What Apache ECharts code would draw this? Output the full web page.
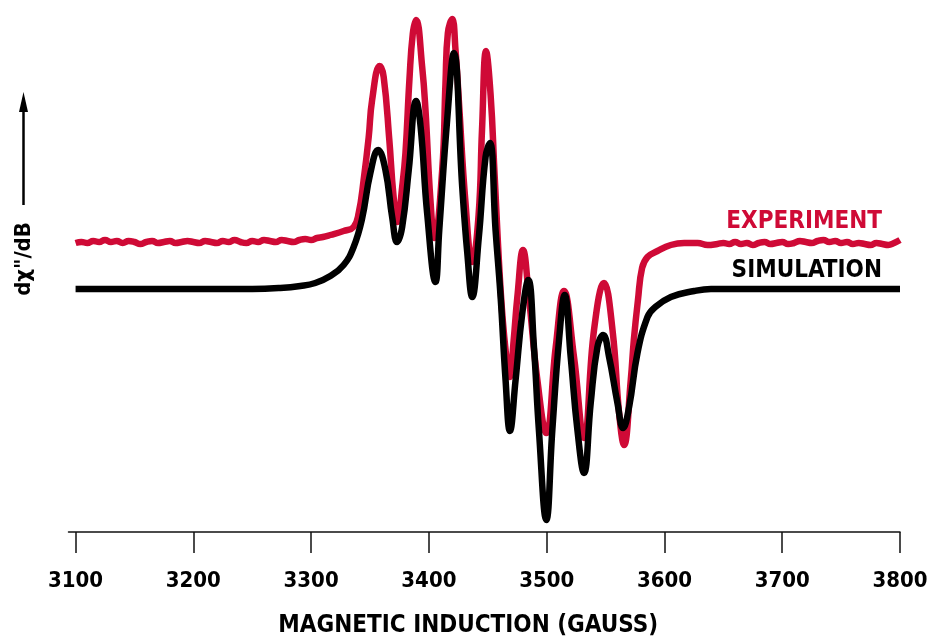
<!DOCTYPE html>
<html>
<head>
<meta charset="utf-8">
<script src="https://cdn.jsdelivr.net/npm/echarts@6/dist/echarts.min.js"></script>
<style>
  html, body { margin: 0; padding: 0; background: #ffffff; }
  #chart { width: 933px; height: 636px; }
</style>
</head>
<body>
<div id="chart"></div>
<script>
// Magnetic field tick values (gauss)
const fieldTicks = [3100, 3200, 3300, 3400, 3500, 3600, 3700, 3800];

// Measured EPR derivative spectrum (arbitrary units)
const fieldExp = [
  3100, 3105, 3110, 3115, 3120, 3125, 3130, 3135, 3140, 3145,
  3150, 3155, 3160, 3165, 3170, 3175, 3180, 3185, 3190, 3195,
  3200, 3205, 3210, 3215, 3220, 3225, 3230, 3235, 3240, 3245,
  3250, 3255, 3260, 3265, 3270, 3275, 3280, 3285, 3290, 3295,
  3300, 3305, 3310, 3316.3, 3327.6, 3336.1, 3340.4, 3344.6, 3348.9, 3351.8,
  3358.2, 3361.6, 3366.4, 3369.9, 3373.3, 3377.3, 3380.1, 3383.5, 3386.3, 3389.2,
  3394.3, 3397.1, 3401.3, 3404.7, 3411.3, 3414.1, 3416.1, 3419.8, 3422.6, 3425.4,
  3431.1, 3436.8, 3442.2, 3445.1, 3448.5, 3452.4, 3455.8, 3460.9, 3465.1, 3468.8,
  3472.0, 3475.1, 3479.9, 3484.9, 3492.1, 3499.7, 3507.7, 3514.7, 3523.2, 3531.7,
  3540.2, 3548.7, 3555.9, 3561.5, 3565.7, 3571.4, 3574.0, 3577.5, 3581.0, 3585.6,
  3594.1, 3605.4, 3616.8, 3628.2, 3636.7, 3645, 3650, 3655, 3660, 3665,
  3670, 3675, 3680, 3685, 3690, 3695, 3700, 3705, 3710, 3715,
  3720, 3725, 3730, 3735, 3740, 3745, 3750, 3755, 3760, 3765,
  3770, 3775, 3780, 3785, 3790, 3795, 3800
];
const signalExp = [
  46, 47, 46, 48, 47, 49, 47, 48, 46, 48,
  47, 45, 47, 48, 46, 47, 48, 46, 47, 48,
  47, 46, 48, 47, 46, 48, 47, 49, 47, 46,
  48, 47, 49, 48, 47, 49, 48, 47, 49, 50,
  49, 51, 52, 54, 58, 62, 76, 109, 152, 189,
  223, 212, 149, 94, 67, 102, 136, 210, 255, 269,
  222, 179, 89, 51, 119, 206, 256, 270, 239, 189,
  86, 27, 74, 159, 238, 194, 114, -1, -61, -88,
  -51, -8, 39, -8, -91, -144, -58, -2, -68, -149,
  -41, 6, -41, -124, -156, -91, -51, -11, 21, 32,
  38, 44, 46, 46, 44, 45, 46, 45, 47, 45,
  46, 44, 46, 47, 45, 46, 47, 45, 46, 48,
  47, 46, 48, 49, 47, 48, 46, 47, 45, 46,
  45, 44, 46, 45, 44, 46, 49
];

// Simulated spectrum (arbitrary units)
const fieldSim = [
  3100, 3150, 3200, 3250, 3273.8, 3290.8, 3303.5, 3316.3, 3327.6, 3336.1,
  3343.2, 3350.3, 3356.9, 3363.1, 3368.8, 3373.0, 3377.3, 3382.9, 3389.2, 3393.0,
  3398.5, 3405.6, 3408.8, 3415.5, 3421.2, 3428.3, 3432.6, 3436.8, 3442.4, 3448.1,
  3451.8, 3456.6, 3460.9, 3465.1, 3468.8, 3473.6, 3479.3, 3484.4, 3489.2, 3493.4,
  3499.7, 3504.8, 3510.5, 3515.3, 3520.4, 3526.1, 3531.7, 3537.4, 3543.1, 3547.9,
  3553.0, 3560.1, 3564.9, 3570.0, 3577.1, 3585.6, 3591.3, 3605.4, 3625.3, 3639.5,
  3665, 3700, 3750, 3800
];
const signalSim = [
  0, 0, 0, 0, 1, 3, 6, 13, 24, 42,
  70, 116, 139, 119, 72, 47, 62, 119, 188, 162,
  76, 7, 59, 169, 236, 102, 36, -8, 52, 132,
  146, 59, -8, -91, -142, -91, -24, 9, -58, -141,
  -231, -141, -51, -6, -68, -141, -184, -114, -58, -46,
  -68, -114, -139, -118, -64, -28, -19, -8, -2, 0,
  0, 0, 0, 0
];

const zip = (xs, ys) => xs.map((x, i) => [x, ys[i]]);

const textFont = '"DejaVu Sans Condensed", "DejaVu Sans", sans-serif';

const chart = echarts.init(document.getElementById('chart'), null, { renderer: 'canvas' });

chart.setOption({
  animation: false,
  backgroundColor: '#ffffff',
  grid: { left: 68.5, right: 33, top: 10, bottom: 104, containLabel: false,
          outerBoundsMode: 'none' },
  xAxis: {
    type: 'value',
    min: 3094,
    max: 3800,
    position: 'bottom',
    axisLine: { show: true, onZero: false, lineStyle: { color: '#111', width: 1.5 } },
    axisTick: { show: true, inside: false, length: 21, customValues: fieldTicks,
                lineStyle: { color: '#111', width: 1.5 } },
    axisLabel: { show: true, margin: 38, customValues: fieldTicks,
                 formatter: (v) => String(v),
                 fontFamily: textFont, fontWeight: 'bold', fontSize: 22, color: '#000' },
    splitLine: { show: false },
    name: 'MAGNETIC INDUCTION (GAUSS)',
    nameLocation: 'middle',
    nameGap: 82,
    nameTextStyle: { fontFamily: textFont, fontWeight: 'bold', fontSize: 24, color: '#000',
                     padding: [0, 32, 0, 0] }
  },
  yAxis: {
    type: 'value',
    min: -243,
    max: 279,
    show: false
  },
  series: [
    {
      name: 'EXPERIMENT',
      type: 'line',
      data: zip(fieldExp, signalExp),
      showSymbol: false,
      symbol: 'none',
      smooth: 0.45,
      lineStyle: { color: '#cf0a36', width: 6.5 },
      z: 2
    },
    {
      name: 'SIMULATION',
      type: 'line',
      data: zip(fieldSim, signalSim),
      showSymbol: false,
      symbol: 'none',
      smooth: 0.45,
      lineStyle: { color: '#000000', width: 6.5 },
      z: 3
    }
  ],
  graphic: [
    {
      type: 'text', right: 51, top: 210,
      style: { text: 'EXPERIMENT', fill: '#cf0a36', font: 'bold 24px ' + textFont }
    },
    {
      type: 'text', right: 51, top: 259,
      style: { text: 'SIMULATION', fill: '#000000', font: 'bold 24px ' + textFont }
    },
    {
      type: 'text', x: 24, y: 259, rotation: Math.PI / 2,
      style: { text: 'dχ"/dB', fill: '#000', font: 'bold 22px ' + textFont,
               align: 'center', verticalAlign: 'middle' }
    },
    {
      type: 'line',
      shape: { x1: 23.5, y1: 205, x2: 23.5, y2: 110 },
      style: { stroke: '#000', lineWidth: 2.5 }
    },
    {
      type: 'polygon',
      shape: { points: [[23.5, 92], [19, 112], [28, 112]] },
      style: { fill: '#000' }
    }
  ]
});
</script>
</body>
</html>
